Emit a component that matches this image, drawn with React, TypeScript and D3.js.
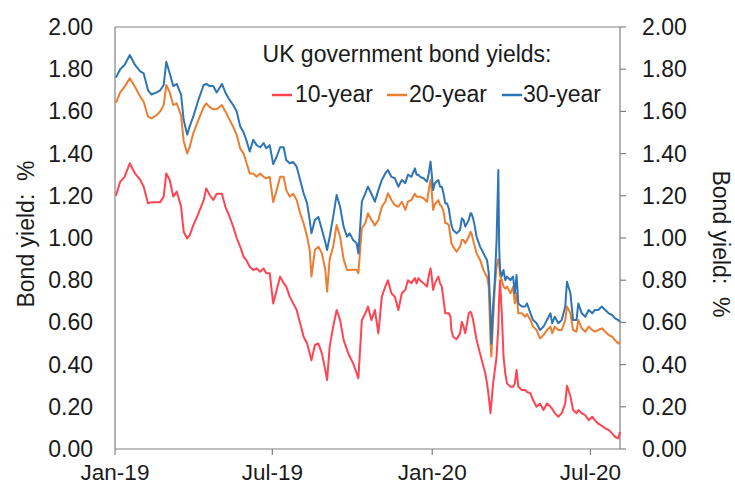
import React from "react";
import * as d3 from "d3";

const dates: string[] = [
  "2019-01-02","2019-01-07","2019-01-12","2019-01-18","2019-01-24","2019-01-30","2019-02-03","2019-02-08","2019-02-12","2019-02-18",
  "2019-02-22","2019-02-26","2019-03-01","2019-03-05","2019-03-09","2019-03-13","2019-03-18","2019-03-21","2019-03-25","2019-03-28",
  "2019-04-01","2019-04-07","2019-04-13","2019-04-16","2019-04-20","2019-04-24","2019-04-28","2019-05-04","2019-05-08","2019-05-12",
  "2019-05-17","2019-05-21","2019-05-25","2019-05-29","2019-06-01","2019-06-05","2019-06-09","2019-06-13","2019-06-17","2019-06-21",
  "2019-06-24","2019-06-28","2019-07-02","2019-07-06","2019-07-10","2019-07-14","2019-07-17","2019-07-21","2019-07-25","2019-07-29",
  "2019-08-02","2019-08-06","2019-08-10","2019-08-13","2019-08-15","2019-08-19","2019-08-23","2019-08-27","2019-08-31","2019-09-02",
  "2019-09-05","2019-09-09","2019-09-13","2019-09-17","2019-09-21","2019-09-25","2019-09-28","2019-10-02","2019-10-06","2019-10-08",
  "2019-10-12","2019-10-16","2019-10-19","2019-10-23","2019-10-27","2019-10-31","2019-11-04","2019-11-08","2019-11-11","2019-11-15",
  "2019-11-19","2019-11-23","2019-11-27","2019-12-01","2019-12-04","2019-12-08","2019-12-12","2019-12-14","2019-12-16","2019-12-18",
  "2019-12-22","2019-12-26","2019-12-28","2019-12-30","2019-12-31","2020-01-02","2020-01-04","2020-01-08","2020-01-10","2020-01-12",
  "2020-01-14","2020-01-16","2020-01-18","2020-01-20","2020-01-22","2020-01-23","2020-01-25","2020-01-29","2020-02-02","2020-02-04",
  "2020-02-06","2020-02-08","2020-02-12","2020-02-14","2020-02-15","2020-02-17","2020-02-19","2020-02-21","2020-02-25","2020-02-29",
  "2020-03-02","2020-03-04","2020-03-06","2020-03-08","2020-03-09","2020-03-11","2020-03-13","2020-03-15","2020-03-17","2020-03-18",
  "2020-03-19","2020-03-21","2020-03-23","2020-03-25","2020-03-27","2020-03-31","2020-04-03","2020-04-05","2020-04-07","2020-04-09",
  "2020-04-13","2020-04-17","2020-04-19","2020-04-23","2020-04-26","2020-04-30","2020-05-04","2020-05-08","2020-05-12","2020-05-16",
  "2020-05-18","2020-05-21","2020-05-25","2020-05-29","2020-06-02","2020-06-04","2020-06-08","2020-06-11","2020-06-15","2020-06-17",
  "2020-06-21","2020-06-25","2020-06-29","2020-07-03","2020-07-06","2020-07-10","2020-07-14","2020-07-18","2020-07-22","2020-07-26",
  "2020-07-29","2020-08-02","2020-08-04",
];

const yield10: number[] = [
  1.20,1.267,1.29,1.354,1.306,1.275,1.243,1.164,1.17,1.17,
  1.17,1.196,1.306,1.275,1.196,1.22,1.15,1.03,0.998,1.014,
  1.06,1.117,1.18,1.235,1.204,1.18,1.21,1.21,1.148,1.109,
  1.054,1.00,0.959,0.91,0.896,0.864,0.848,0.856,0.84,0.856,
  0.833,0.833,0.69,0.754,0.817,0.786,0.77,0.722,0.69,0.659,
  0.596,0.532,0.50,0.453,0.42,0.493,0.50,0.453,0.374,0.327,
  0.485,0.58,0.659,0.611,0.517,0.469,0.438,0.406,0.359,0.335,
  0.611,0.643,0.675,0.611,0.659,0.548,0.722,0.77,0.80,0.738,
  0.722,0.659,0.738,0.754,0.80,0.786,0.81,0.785,0.81,0.80,
  0.785,0.77,0.82,0.856,0.83,0.754,0.785,0.817,0.785,0.77,
  0.706,0.643,0.643,0.643,0.627,0.564,0.532,0.52,0.548,0.603,
  0.58,0.548,0.643,0.65,0.643,0.611,0.564,0.517,0.453,0.39,
  0.359,0.311,0.248,0.17,0.216,0.311,0.374,0.438,0.58,0.72,
  0.80,0.643,0.438,0.359,0.311,0.295,0.295,0.311,0.374,0.295,
  0.28,0.28,0.27,0.264,0.232,0.20,0.215,0.185,0.216,0.20,
  0.19,0.17,0.153,0.17,0.216,0.30,0.25,0.185,0.169,0.185,
  0.169,0.16,0.137,0.153,0.137,0.12,0.11,0.098,0.09,0.074,
  0.058,0.05,0.08,
];

const yield20: number[] = [
  1.64,1.69,1.717,1.757,1.717,1.67,1.646,1.575,1.567,1.583,
  1.60,1.63,1.725,1.69,1.63,1.638,1.58,1.46,1.40,1.433,
  1.496,1.56,1.62,1.638,1.62,1.61,1.61,1.63,1.60,1.567,
  1.527,1.488,1.425,1.40,1.36,1.306,1.306,1.29,1.306,1.29,
  1.283,1.29,1.17,1.227,1.29,1.29,1.227,1.196,1.21,1.18,
  1.117,1.07,1.006,0.943,0.817,0.943,0.959,0.927,0.848,0.746,
  0.90,0.959,1.062,1.006,0.90,0.848,0.848,0.85,0.85,0.833,
  1.046,1.07,1.117,1.085,1.06,1.085,1.148,1.172,1.212,1.18,
  1.156,1.148,1.172,1.133,1.172,1.18,1.21,1.196,1.196,1.196,
  1.188,1.172,1.227,1.275,1.243,1.133,1.16,1.18,1.156,1.148,
  1.125,1.07,1.07,1.062,1.006,0.975,0.959,0.935,0.959,0.99,
  0.99,0.975,1.006,1.03,1.022,0.99,0.959,0.927,0.896,0.848,
  0.83,0.817,0.77,0.517,0.438,0.611,0.77,0.864,0.90,0.88,
  0.82,0.80,0.77,0.76,0.77,0.738,0.769,0.69,0.738,0.643,
  0.643,0.627,0.64,0.611,0.58,0.564,0.524,0.54,0.564,0.58,
  0.548,0.58,0.564,0.564,0.611,0.675,0.643,0.564,0.556,0.611,
  0.572,0.556,0.58,0.564,0.556,0.564,0.572,0.556,0.54,0.532,
  0.517,0.50,0.51,
];

const yield30: number[] = [
  1.76,1.80,1.82,1.867,1.82,1.79,1.78,1.70,1.68,1.69,
  1.70,1.725,1.835,1.78,1.72,1.73,1.68,1.56,1.49,1.53,
  1.575,1.655,1.725,1.73,1.72,1.72,1.69,1.73,1.69,1.66,
  1.63,1.60,1.53,1.50,1.465,1.41,1.465,1.44,1.43,1.45,
  1.425,1.44,1.35,1.385,1.43,1.43,1.37,1.354,1.36,1.338,
  1.275,1.212,1.164,1.085,1.022,1.085,1.10,1.04,0.98,0.943,
  1.006,1.10,1.204,1.148,1.054,1.006,1.022,0.99,0.975,0.927,
  1.172,1.212,1.243,1.21,1.172,1.227,1.275,1.306,1.322,1.29,
  1.283,1.243,1.275,1.26,1.30,1.29,1.33,1.30,1.30,1.29,
  1.283,1.267,1.306,1.362,1.322,1.227,1.26,1.275,1.243,1.243,
  1.21,1.164,1.164,1.14,1.085,1.062,1.038,1.022,1.038,1.093,
  1.085,1.054,1.085,1.117,1.117,1.093,1.054,1.006,0.959,0.927,
  0.91,0.896,0.833,0.643,0.50,0.675,0.80,0.99,1.322,0.95,
  0.85,0.82,0.848,0.80,0.817,0.80,0.817,0.738,0.825,0.69,
  0.675,0.675,0.69,0.643,0.611,0.596,0.564,0.58,0.611,0.643,
  0.596,0.627,0.596,0.611,0.675,0.793,0.738,0.611,0.611,0.69,
  0.643,0.627,0.659,0.643,0.659,0.659,0.675,0.659,0.643,0.635,
  0.62,0.611,0.603,
];

const yTicks: number[] = [0, 0.2, 0.4, 0.6, 0.8, 1.0, 1.2, 1.4, 1.6, 1.8, 2.0];
const xTickDates: string[] = ["2019-01-01", "2019-07-01", "2020-01-01", "2020-07-01"];
const xTickLabels: string[] = ["Jan-19", "Jul-19", "Jan-20", "Jul-20"];
const seriesNames: string[] = ["10-year", "20-year", "30-year"];
const seriesColors: string[] = ["#ff4452", "#ed7d31", "#2e75b6"];
const legendTitle = "UK government bond yields:";
const axisTitle = "Bond yield:  %";

const W = 735;
const H = 486;
const M = { left: 115, right: 620, top: 27, bottom: 449 };
const FONT = "'Liberation Sans', Arial, Helvetica, sans-serif";

export default function App() {
  const parse = d3.timeParse("%Y-%m-%d");
  const x = d3
    .scaleTime()
    .domain([parse("2019-01-01") as Date, parse("2020-08-04") as Date])
    .range([M.left, M.right]);
  const y = d3.scaleLinear().domain([0, 2]).range([M.bottom, M.top]);
  const parsed = dates.map((d) => parse(d) as Date);
  const series = [yield10, yield20, yield30];
  const line = d3
    .line<number>()
    .x((_, i) => x(parsed[i]))
    .y((v) => y(v))
    .curve(d3.curveLinear);

  const legendItems = [
    { sx: 272, tx: 295 },
    { sx: 387, tx: 409 },
    { sx: 502, tx: 523 },
  ];

  return (
    <svg
      width={W}
      height={H}
      style={{ position: "absolute", left: 0, top: 0, background: "#fff" }}
      fontFamily={FONT}
    >
      <rect x={0} y={0} width={W} height={H} fill="#fff" />
      {/* frame */}
      <line x1={M.left} x2={M.right} y1={M.top} y2={M.top} stroke="#808080" strokeWidth={1.2} />
      <line x1={M.left} x2={M.left} y1={M.top} y2={M.bottom} stroke="#808080" strokeWidth={1.2} />
      <line x1={M.right} x2={M.right} y1={M.top} y2={M.bottom} stroke="#808080" strokeWidth={1.2} />
      <line x1={M.left} x2={M.right} y1={M.bottom} y2={M.bottom} stroke="#808080" strokeWidth={1.2} />

      {/* y ticks */}
      {yTicks.map((t) => (
        <g key={t}>
          <text x={93} y={y(t)} textAnchor="end" dominantBaseline="central" fontSize={23} fill="#1a1a1a">
            {t.toFixed(2)}
          </text>
          <line x1={M.right} x2={M.right + 6} y1={y(t)} y2={y(t)} stroke="#808080" strokeWidth={1.2} />
          <text x={642} y={y(t)} textAnchor="start" dominantBaseline="central" fontSize={23} fill="#1a1a1a">
            {t.toFixed(2)}
          </text>
        </g>
      ))}

      {/* x ticks */}
      {xTickDates.map((d, i) => {
        const xx = x(parse(d) as Date);
        return (
          <g key={d}>
            <line x1={xx} x2={xx} y1={M.bottom} y2={M.bottom + 6} stroke="#808080" strokeWidth={1.2} />
            <text x={xx} y={480} textAnchor="middle" fontSize={22.5} fill="#1a1a1a">
              {xTickLabels[i]}
            </text>
          </g>
        );
      })}

      {/* axis titles */}
      <text transform={`translate(34,234) rotate(-90)`} textAnchor="middle" fontSize={23} fill="#1a1a1a" xmlSpace="preserve">
        {axisTitle}
      </text>
      <text transform={`translate(713,244) rotate(90)`} textAnchor="middle" fontSize={23} fill="#1a1a1a" xmlSpace="preserve">
        {axisTitle}
      </text>

      {/* series */}
      {series.map((s, i) => (
        <path
          key={seriesNames[i]}
          d={line(s) || ""}
          fill="none"
          stroke={seriesColors[i]}
          strokeWidth={2}
          strokeLinejoin="round"
        />
      ))}

      {/* legend */}
      <text x={407} y={62} textAnchor="middle" fontSize={23} fill="#1a1a1a">
        {legendTitle}
      </text>
      {legendItems.map((it, i) => (
        <g key={seriesNames[i]}>
          <line x1={it.sx} x2={it.sx + 20} y1={95} y2={95} stroke={seriesColors[i]} strokeWidth={2.5} />
          <text x={it.tx} y={102} fontSize={23} fill="#1a1a1a">
            {seriesNames[i]}
          </text>
        </g>
      ))}
    </svg>
  );
}
